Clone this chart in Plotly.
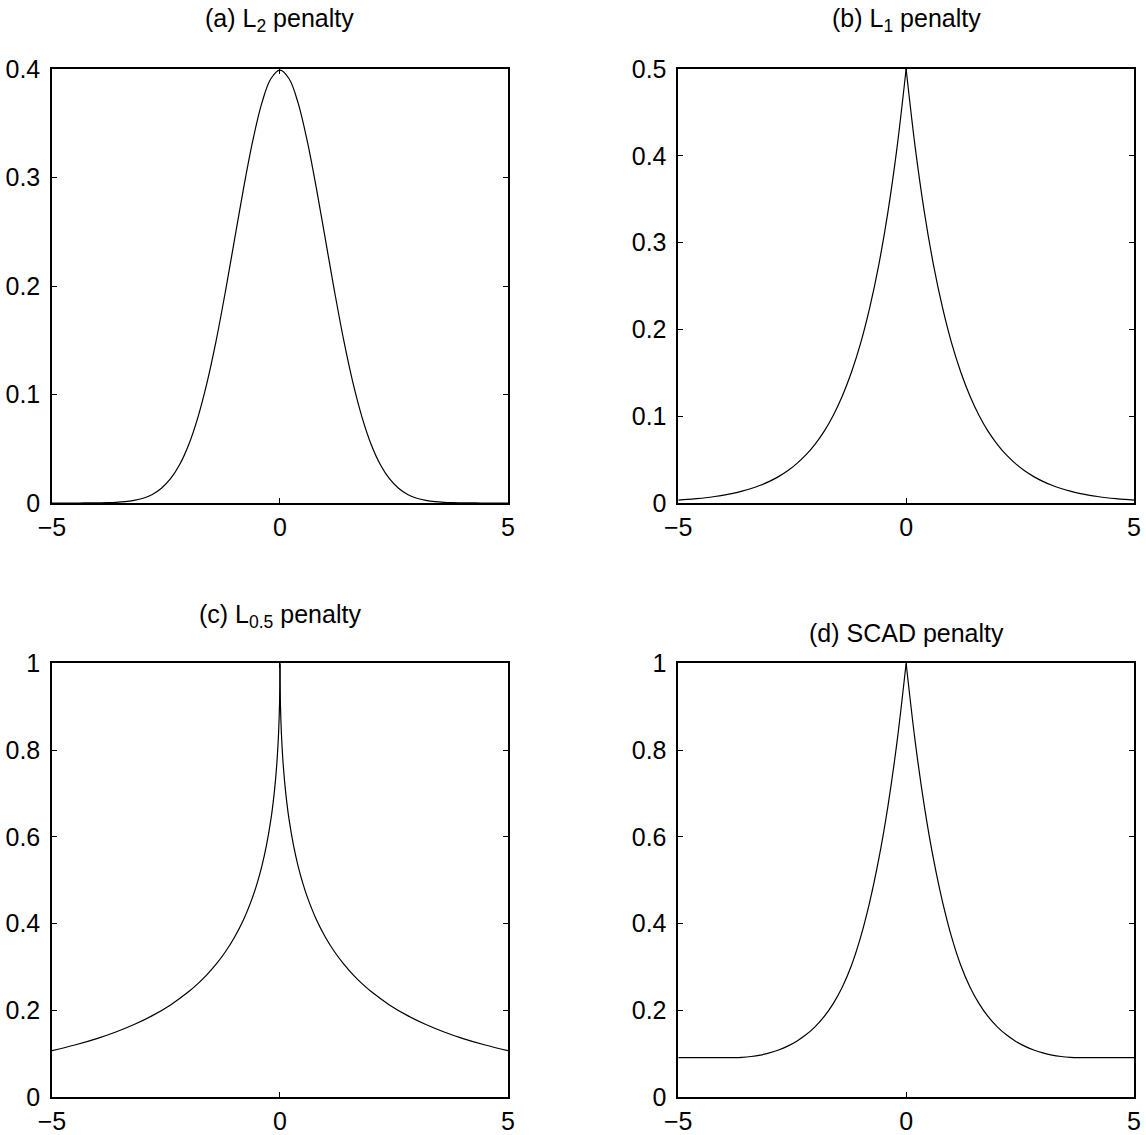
import plotly.graph_objects as go

# ---------------- data ----------------
x_grid = [-5.0, -4.8, -4.6, -4.4, -4.2, -4.0, -3.8, -3.6, -3.4, -3.2, -3.0, -2.8, -2.6,
          -2.4, -2.2, -2.0, -1.8, -1.6, -1.4, -1.2, -1.0, -0.8, -0.6, -0.4, -0.2, 0.0,
          0.2, 0.4, 0.6, 0.8, 1.0, 1.2, 1.4, 1.6, 1.8, 2.0, 2.2, 2.4, 2.6, 2.8, 3.0,
          3.2, 3.4, 3.6, 3.8, 4.0, 4.2, 4.4, 4.6, 4.8, 5.0]

y_l2 = [0.0000, 0.0000, 0.0000, 0.0000, 0.0001, 0.0001, 0.0003, 0.0006, 0.0012, 0.0024,
        0.0044, 0.0079, 0.0136, 0.0224, 0.0355, 0.0540, 0.0790, 0.1109, 0.1497, 0.1942,
        0.2420, 0.2897, 0.3332, 0.3683, 0.3910, 0.3989,
        0.3910, 0.3683, 0.3332, 0.2897, 0.2420, 0.1942, 0.1497, 0.1109, 0.0790, 0.0540,
        0.0355, 0.0224, 0.0136, 0.0079, 0.0044, 0.0024, 0.0012, 0.0006, 0.0003, 0.0001,
        0.0001, 0.0000, 0.0000, 0.0000, 0.0000]

y_l1 = [0.0034, 0.0041, 0.0050, 0.0061, 0.0075, 0.0092, 0.0112, 0.0137, 0.0167, 0.0204,
        0.0249, 0.0304, 0.0371, 0.0454, 0.0554, 0.0677, 0.0826, 0.1009, 0.1233, 0.1506,
        0.1839, 0.2247, 0.2744, 0.3352, 0.4094, 0.5000,
        0.4094, 0.3352, 0.2744, 0.2247, 0.1839, 0.1506, 0.1233, 0.1009, 0.0826, 0.0677,
        0.0554, 0.0454, 0.0371, 0.0304, 0.0249, 0.0204, 0.0167, 0.0137, 0.0112, 0.0092,
        0.0075, 0.0061, 0.0050, 0.0041, 0.0034]

y_scad = [0.0907, 0.0907, 0.0907, 0.0907, 0.0907, 0.0907, 0.0907, 0.0914, 0.0934, 0.0967,
          0.1017, 0.1085, 0.1173, 0.1287, 0.1433, 0.1618, 0.1853, 0.2153, 0.2537, 0.3033,
          0.3679, 0.4493, 0.5488, 0.6703, 0.8187, 1.0000,
          0.8187, 0.6703, 0.5488, 0.4493, 0.3679, 0.3033, 0.2537, 0.2153, 0.1853, 0.1618,
          0.1433, 0.1287, 0.1173, 0.1085, 0.1017, 0.0967, 0.0934, 0.0914, 0.0907, 0.0907,
          0.0907, 0.0907, 0.0907, 0.0907, 0.0907]

x_l05 = [-5.0, -4.5, -4.0, -3.6, -3.2, -2.8, -2.4, -2.0, -1.8, -1.6, -1.4, -1.2, -1.0,
         -0.8, -0.6, -0.5, -0.4, -0.3, -0.2, -0.15, -0.1, -0.06, -0.03, -0.01, -0.002, 0.0,
         0.002, 0.01, 0.03, 0.06, 0.1, 0.15, 0.2, 0.3, 0.4, 0.5, 0.6, 0.8, 1.0, 1.2, 1.4,
         1.6, 1.8, 2.0, 2.4, 2.8, 3.2, 3.6, 4.0, 4.5, 5.0]
y_l05 = [0.1069, 0.1199, 0.1353, 0.1500, 0.1672, 0.1876, 0.2124, 0.2431, 0.2614, 0.2823,
         0.3063, 0.3344, 0.3679, 0.4088, 0.4609, 0.4931, 0.5313, 0.5783, 0.6394, 0.6789,
         0.7289, 0.7827, 0.8410, 0.9048, 0.9563, 1.0000,
         0.9563, 0.9048, 0.8410, 0.7827, 0.7289, 0.6789, 0.6394, 0.5783, 0.5313, 0.4931,
         0.4609, 0.4088, 0.3679, 0.3344, 0.3063, 0.2823, 0.2614, 0.2431, 0.2124, 0.1876,
         0.1672, 0.1500, 0.1353, 0.1199, 0.1069]

x_ticks = [-5, 0, 5]
x_ticklabels = ["\u22125", "0", "5"]
y_ticks_a = [0, 0.1, 0.2, 0.3, 0.4]
y_ticklabels_a = ["0", "0.1", "0.2", "0.3", "0.4"]
y_ticks_b = [0, 0.1, 0.2, 0.3, 0.4, 0.5]
y_ticklabels_b = ["0", "0.1", "0.2", "0.3", "0.4", "0.5"]
y_ticks_cd = [0, 0.2, 0.4, 0.6, 0.8, 1]
y_ticklabels_cd = ["0", "0.2", "0.4", "0.6", "0.8", "1"]

titles = ["(a) L<sub>2</sub> penalty", "(b) L<sub>1</sub> penalty",
          "(c) L<sub>0.5</sub> penalty", "(d) SCAD penalty"]

# ---------------- figure ----------------
FONT = "Liberation Sans, Arial, Helvetica, sans-serif"
FS = 25
W, H = 1146, 1135
ML, MR, MT, MB = 52, 12, 69, 38

xdom = [[0.0, 0.4214], [0.5788, 1.0]]
ydom = [[0.5778, 1.0], [0.0, 0.4219]]

panels = [
    dict(x=x_grid, y=y_l2, split=False, yr=[0, 0.4], yt=y_ticks_a, ytl=y_ticklabels_a, col=0, row=0, ts=31),
    dict(x=x_grid, y=y_l1, split=True, yr=[0, 0.5], yt=y_ticks_b, ytl=y_ticklabels_b, col=1, row=0, ts=31),
    dict(x=x_l05, y=y_l05, split=True, yr=[0, 1], yt=y_ticks_cd, ytl=y_ticklabels_cd, col=0, row=1, ts=29),
    dict(x=x_grid, y=y_scad, split=True, yr=[0, 1], yt=y_ticks_cd, ytl=y_ticklabels_cd, col=1, row=1, ts=14),
]

fig = go.Figure()
line = dict(color="black", width=1.2, shape="spline", smoothing=1)

for i, p in enumerate(panels):
    n = i + 1
    xa = "x" if n == 1 else f"x{n}"
    ya = "y" if n == 1 else f"y{n}"
    if p["split"]:
        i0 = p["x"].index(0.0)
        parts = [(p["x"][:i0 + 1], p["y"][:i0 + 1]), (p["x"][i0:], p["y"][i0:])]
    else:
        parts = [(p["x"], p["y"])]
    for xs, ys in parts:
        fig.add_trace(go.Scatter(x=xs, y=ys, mode="lines", line=line,
                                 xaxis=xa, yaxis=ya, showlegend=False, hoverinfo="skip"))

    common = dict(showline=True, linecolor="black", linewidth=1.5, mirror="ticks",
                  ticks="inside", ticklen=5, tickwidth=1, tickcolor="black",
                  showgrid=False, zeroline=False, automargin=False,
                  tickfont=dict(family=FONT, size=FS, color="black"))
    xkey = "xaxis" if n == 1 else f"xaxis{n}"
    ykey = "yaxis" if n == 1 else f"yaxis{n}"
    fig.update_layout(**{
        xkey: dict(domain=xdom[p["col"]], anchor=ya, range=[-5, 5],
                   tickvals=x_ticks, ticktext=x_ticklabels, ticklabelstandoff=1, **common),
        ykey: dict(domain=ydom[p["row"]], anchor=xa, range=p["yr"],
                   tickvals=p["yt"], ticktext=p["ytl"], ticklabelstandoff=5, **common),
    })

    fig.add_annotation(text=titles[i], xref="paper", yref="paper",
                       x=sum(xdom[p["col"]]) / 2, y=ydom[p["row"]][1],
                       xanchor="center", yanchor="bottom", yshift=p["ts"], showarrow=False,
                       font=dict(family=FONT, size=FS, color="black"))

fig.update_layout(width=W, height=H, margin=dict(l=ML, r=MR, t=MT, b=MB, pad=0, autoexpand=False),
                  paper_bgcolor="white", plot_bgcolor="white", showlegend=False)

fig.write_html("out.html", config={"displayModeBar": False},
               post_script="document.body.style.margin='0';")
